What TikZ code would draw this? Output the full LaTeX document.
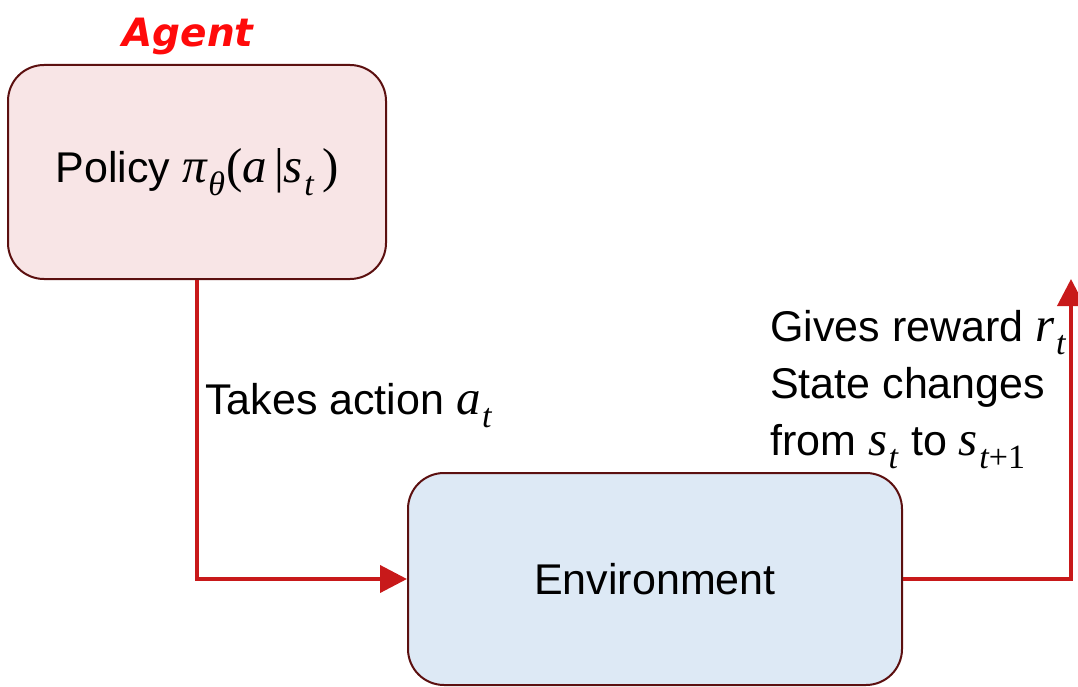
\documentclass[tikz,border=0pt]{standalone}
\usepackage{fontspec}
\setmainfont{Liberation Sans}
\newfontfamily\handfont{DejaVu Sans}
\newfontfamily\mf{Liberation Serif}
\usetikzlibrary{arrows.meta}
\definecolor{boxline}{HTML}{5C1010}
\definecolor{polfill}{HTML}{F8E5E6}
\definecolor{envfill}{HTML}{DDE9F5}
\definecolor{flow}{HTML}{C8191A}
\definecolor{hand}{HTML}{FF0A0A}
% italic serif variables with lowered subscripts
\newcommand\mv[1]{{\mf\itshape\fontsize{49}{49}\selectfont #1}}
\newcommand\mup[1]{{\mf\fontsize{49}{49}\selectfont #1}}
\newcommand\sbs[1]{\kern1.5pt\relax\raisebox{-0.3em}{\fontsize{34}{34}\selectfont\mf\itshape #1}\kern1pt\relax}
\begin{document}
\begin{tikzpicture}[x=1pt,y=-1pt,
  blk/.style={draw=boxline,line width=2pt,rounded corners=36pt,inner sep=0pt,
    font=\fontsize{43}{50}\selectfont},
  flowline/.style={draw=flow,line width=4pt,-{Triangle[length=27pt,width=27pt]}},
  lbl/.style={inner sep=0pt,font=\fontsize{43}{57}\selectfont,align=left}]
  \useasboundingbox (0,0) rectangle (1078,687);
  % agent block and environment block
  \node[blk,fill=polfill,minimum width=378pt,minimum height=214pt] (pol) at (197,172)
    {Policy \mv{π}\sbs{θ}\mup{(}\mv{a}\,\mup{|}\mv{s}\sbs{t}\,\mup{)}};
  \node[blk,fill=envfill,minimum width=494pt,minimum height=212pt] (env) at (655,579)
    {Environment};
  % handwritten tag above the agent
  \node[text=hand,font=\handfont\itshape\bfseries\fontsize{39}{40}\selectfont,inner sep=0pt] (tag) at (188,36) {Agent};
  % action flows into the environment
  \draw[flowline] (pol.south) |- (env.west);
  % reward / next state flows back up
  \coordinate (ret) at (1071,279);
  \draw[flowline] (env.east) -| (ret);
  % annotations
  \node[lbl,anchor=west] (act) at (205,406) {Takes action \mv{a}\sbs{t}};
  \node[lbl,anchor=north west] (rew) at (770,310)
    {Gives reward \mv{r}\sbs{t}\\State changes\\from \mv{s}\sbs{t} to \mv{s}\sbs{t{\upshape+1}}};
\end{tikzpicture}
\end{document}
